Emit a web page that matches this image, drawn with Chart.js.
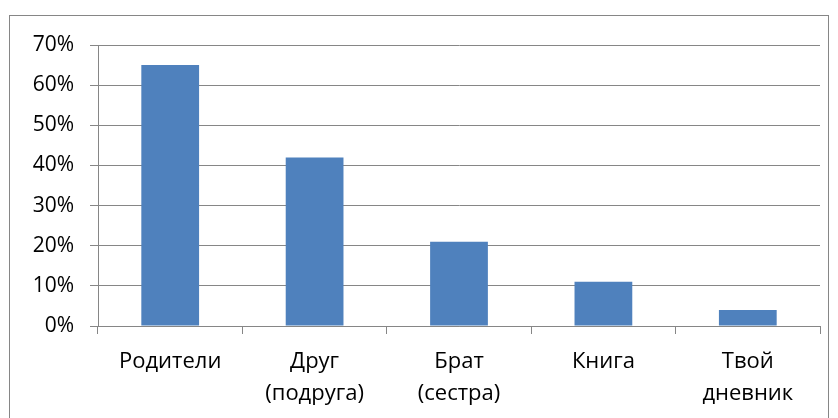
<!DOCTYPE html>
<html>
<head>
<meta charset="utf-8">
<script src="https://cdn.jsdelivr.net/npm/chart.js@4"></script>
<style>
    body { margin: 0; background: #fff; }
    .marco { position: absolute; left: 9px; top: 15px; width: 820px; height: 420px; border: 1px solid #868686; box-sizing: border-box; }
    .contenedor { position: absolute; left: 0; top: 0; width: 838px; height: 418px; }
</style>
</head>
<body>
<div class="marco"></div>
<div class="contenedor"><canvas id="Grafico" width="838" height="418"></canvas></div>
<script>
const categorias = [['Родители'], ['Друг', '(подруга)'], ['Брат', '(сестра)'], ['Книга'], ['Твой', 'дневник']];
const valores = [65, 42, 21, 11, 4];
const ticksY = [0, 10, 20, 30, 40, 50, 60, 70];

const gris = '#868686';

let ctx = document.getElementById('Grafico').getContext('2d');
let graphic = new Chart(ctx, {
    type: 'bar',
    data: {
        labels: categorias,
        datasets: [{
            data: valores,
            backgroundColor: '#4F81BD',
            borderWidth: 0,
            barPercentage: 0.4,
            categoryPercentage: 1
        }]
    },
    options: {
        responsive: false,
        animation: false,
        layout: { padding: { top: 45, right: 18, left: 0, bottom: 0 } },
        plugins: { legend: { display: false }, tooltip: { enabled: false } },
        scales: {
            x: {
                offset: true,
                grid: { offset: true, drawOnChartArea: false, color: gris, tickLength: 8, lineWidth: 1 },
                border: { color: gris },
                ticks: { color: '#000', padding: 12, maxRotation: 0, font: { family: 'Open Sans', size: 22, lineHeight: 1.45 } },
                afterFit: s => { s.height = 92; }
            },
            y: {
                min: 0, max: 70,
                afterBuildTicks: s => { s.ticks = ticksY.map(v => ({ value: v })); },
                grid: { color: gris, tickLength: 8 },
                border: { color: gris },
                ticks: { color: '#000', padding: 16, callback: v => v + '%', font: { family: 'Open Sans', size: 21 } },
                afterFit: s => { s.width = 98; }
            }
        }
    }
});
</script>
</body>
</html>
